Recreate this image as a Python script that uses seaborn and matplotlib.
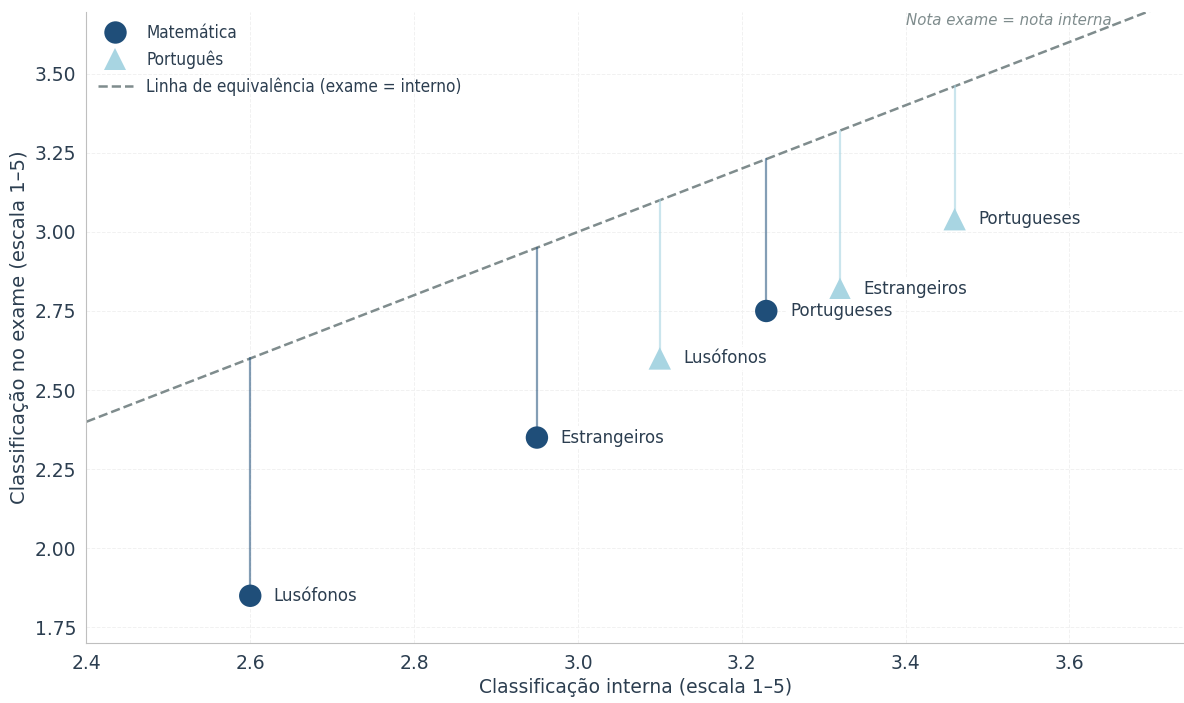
import matplotlib
matplotlib.use("Agg")
import matplotlib.pyplot as plt
import numpy as np
import pandas as pd
import seaborn as sns

groups = ["Lusófonos", "Estrangeiros", "Portugueses"]
mat_interna = [2.60, 2.95, 3.23]
mat_exame = [1.85, 2.35, 2.75]
por_interna = [3.10, 3.32, 3.46]
por_exame = [2.60, 2.82, 3.04]

DARK = "#1f4e79"
LIGHT = "#a8d5e2"
TEXT = "#2c3e50"
GRAY = "#7f8c8d"

df = pd.DataFrame({
    "grupo": groups * 2,
    "interna": mat_interna + por_interna,
    "exame": mat_exame + por_exame,
    "disciplina": ["Matemática"] * 3 + ["Português"] * 3,
})

sns.set_style("white")
plt.rcParams["font.family"] = ["DejaVu Sans"]
plt.rcParams["text.color"] = TEXT
plt.rcParams["axes.labelcolor"] = TEXT
plt.rcParams["xtick.color"] = TEXT
plt.rcParams["ytick.color"] = TEXT

fig, ax = plt.subplots(figsize=(11.84, 7.03), dpi=100)

xs = np.array([2.4, 3.74])
ax.plot(xs, xs, ls="--", color=GRAY, lw=1.8, zorder=1,
        label="Linha de equivalência (exame = interno)")

# segmentos verticais até à linha de equivalência
for _, r in df.iterrows():
    c = DARK if r["disciplina"] == "Matemática" else LIGHT
    a = 0.55 if r["disciplina"] == "Matemática" else 0.6
    ax.plot([r["interna"], r["interna"]], [r["exame"], r["interna"]],
            color=c, alpha=a, lw=1.6, zorder=2)

sns.scatterplot(data=df, x="interna", y="exame", hue="disciplina",
                style="disciplina", markers={"Matemática": "o", "Português": "^"},
                palette={"Matemática": DARK, "Português": LIGHT},
                s=260, linewidth=0, zorder=3, ax=ax)

for _, r in df.iterrows():
    ax.annotate(r["grupo"], (r["interna"], r["exame"]), xytext=(17, 0),
                textcoords="offset points", va="center", ha="left",
                fontsize=12, color=TEXT,
                bbox=dict(boxstyle="square,pad=0.15", fc="white", ec="none"), zorder=4)

ax.text(3.652, 3.668, "Nota exame = nota interna", ha="right", va="center",
        fontsize=10.8, style="italic", color=GRAY)

ax.set_xlim(2.4, 3.74)
ax.set_ylim(1.70, 3.695)
ax.set_yticks([1.75, 2.0, 2.25, 2.5, 2.75, 3.0, 3.25, 3.5])
ax.yaxis.set_major_formatter(matplotlib.ticker.FormatStrFormatter("%.2f"))
ax.set_xlabel("Classificação interna (escala 1–5)", fontsize=13.5)
ax.set_ylabel("Classificação no exame (escala 1–5)", fontsize=14)
ax.tick_params(axis="both", labelsize=13.5, length=4, color=GRAY)
ax.grid(True, ls="--", lw=0.7, color="#f1f1f1")
ax.set_axisbelow(True)
sns.despine(ax=ax)
for s in ["left", "bottom"]:
    ax.spines[s].set_color("#bfbfbf")

handles, labels = ax.get_legend_handles_labels()
order = [labels.index("Matemática"), labels.index("Português"),
         labels.index("Linha de equivalência (exame = interno)")]
leg = ax.legend([handles[i] for i in order], [labels[i] for i in order],
                loc="upper left", frameon=False,
                prop=dict(family="DejaVu Sans", size=12.3, stretch="condensed"),
                markerscale=1.0, handlelength=2.0, borderaxespad=0.3)
for t in leg.get_texts():
    t.set_color(TEXT)

fig.subplots_adjust(left=0.073, right=1.0, top=0.983, bottom=0.085)
fig.savefig("out.png", dpi=100)
